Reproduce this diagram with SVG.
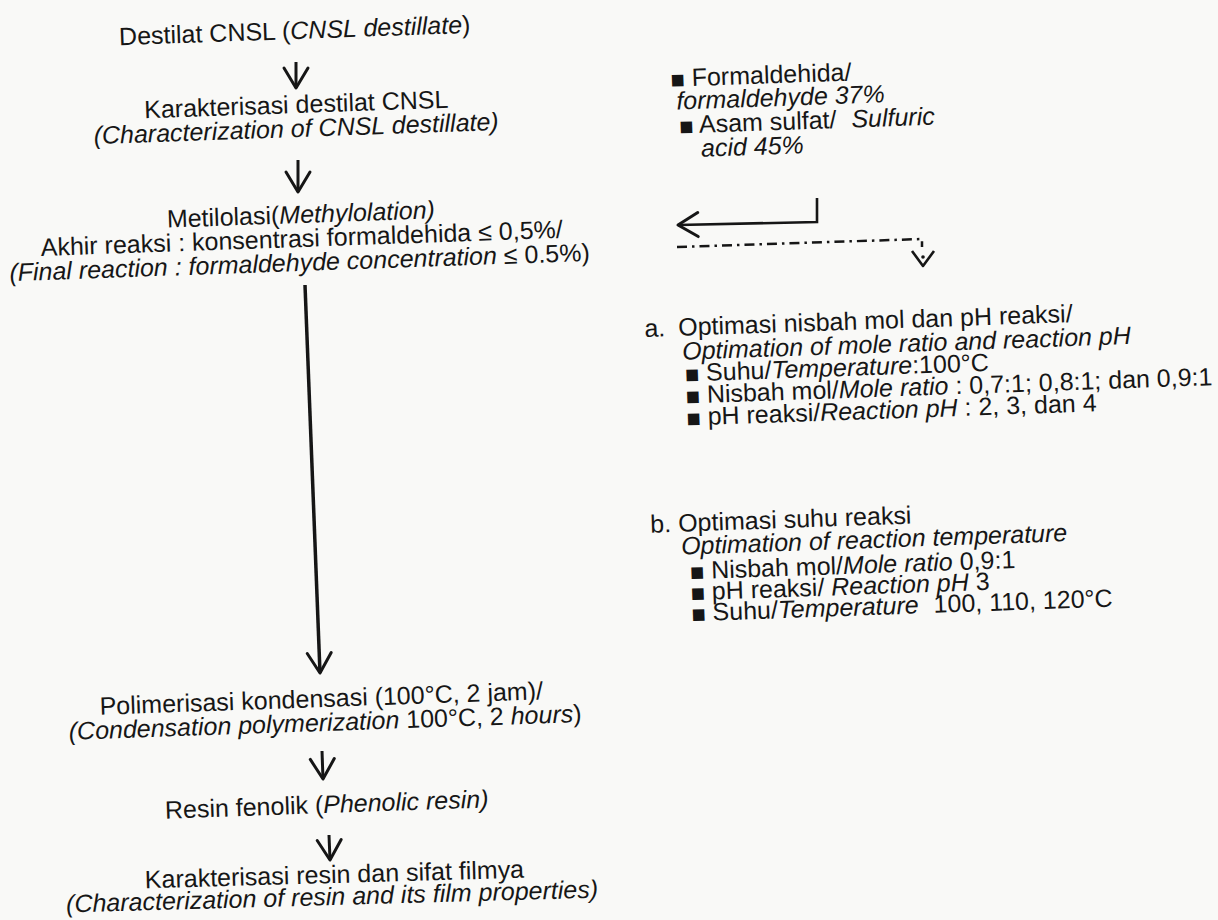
<svg xmlns="http://www.w3.org/2000/svg" width="1218" height="920" viewBox="0 0 1218 920">
<defs>
<style>
text{font-family:"Liberation Sans",Arial,Helvetica,sans-serif;font-size:25px;fill:#161616}
.c{text-anchor:middle}
.i{font-style:italic}
.b{font-family:"DejaVu Sans",sans-serif;font-size:15px}
.ln{fill:none;stroke:#161616;stroke-width:3;stroke-linecap:butt}
.dd{fill:none;stroke:#161616;stroke-width:2.5;stroke-dasharray:10 5 2.5 5}
</style>
<marker id="ah" viewBox="0 0 30 30" refX="27" refY="15" markerWidth="30" markerHeight="30" markerUnits="userSpaceOnUse" orient="auto">
<path d="M7,3 L27,15 L7,27" fill="none" stroke="#161616" stroke-width="3" stroke-linejoin="round" stroke-linecap="round"/>
</marker>
</defs>
<rect width="1218" height="920" fill="#f9f9f7"/>

<g id="n1" transform="rotate(-2 295 39)">
<text class="c" x="295" y="39">Destilat CNSL (<tspan class="i">CNSL destillate</tspan>)</text>
</g>

<g id="n2" transform="rotate(-2 297 125)">
<text class="c" x="297" y="113">Karakterisasi destilat CNSL</text>
<text class="c i" x="296" y="137">(Characterization of CNSL destillate)</text>
</g>

<g id="n3" transform="rotate(-2 300 247)">
<text class="c" x="302" y="223">Metilolasi(<tspan class="i">Methylolation)</tspan></text>
<text class="c" x="302" y="247">Akhir reaksi : konsentrasi formaldehida ≤ 0,5%/</text>
<text class="c" x="299" y="271"><tspan class="i">(Final reaction : formaldehyde concentration</tspan> ≤ 0.5%)</text>
</g>

<g id="n4" transform="rotate(-2 323 719)">
<text class="c" x="322" y="707">Polimerisasi kondensasi (100°C, 2 jam)/</text>
<text class="c" x="325" y="731"><tspan class="i">(Condensation polymerization</tspan> 100°C, 2 <tspan class="i">hours</tspan>)</text>
</g>

<g id="n5" transform="rotate(-2 327 813)">
<text class="c" x="327" y="813">Resin fenolik (<tspan class="i">Phenolic resin)</tspan></text>
</g>

<g id="n6" transform="rotate(-1.6 333 894)">
<text class="c" x="335" y="883">Karakterisasi resin dan sifat filmya</text>
<text class="c i" x="332" y="905">(Characterization of resin and its film properties)</text>
</g>

<g id="reagents" transform="rotate(-2 780 118)">
<text x="672" y="83"><tspan class="b" dy="-2">■</tspan><tspan dy="2"> Formaldehida/</tspan></text>
<text class="i" x="677" y="106">formaldehyde 37%</text>
<text x="679" y="130"><tspan class="b" dy="-2">■</tspan><tspan dy="2"> Asam sulfat/ </tspan><tspan class="i" dx="8">Sulfuric</tspan></text>
<text class="i" x="700" y="154">acid 45%</text>
</g>

<g id="opt-a" transform="rotate(-2 930 370)">
<text x="646" y="327">a. <tspan dx="6">Optimasi nisbah mol dan pH reaksi/</tspan></text>
<text class="i" x="683" y="351">Optimation of mole ratio and reaction pH</text>
<text x="685" y="373"><tspan class="b" dy="-2">■</tspan><tspan dy="2"> Suhu/</tspan><tspan class="i">Temperature</tspan>:100°C</text>
<text x="685" y="395"><tspan class="b" dy="-2">■</tspan><tspan dy="2"> Nisbah mol/</tspan><tspan class="i">Mole ratio</tspan> : 0,7:1; 0,8:1; dan 0,9:1</text>
<text x="685" y="417"><tspan class="b" dy="-2">■</tspan><tspan dy="2"> pH reaksi/</tspan><tspan class="i">Reaction pH</tspan> : 2, 3, dan 4</text>
</g>

<g id="opt-b" transform="rotate(-2 900 568)">
<text x="652" y="524">b. Optimasi suhu reaksi</text>
<text class="i" x="682" y="547">Optimation of reaction temperature</text>
<text x="690" y="572"><tspan class="b" dy="-2">■</tspan><tspan dy="2"> Nisbah mol/</tspan><tspan class="i">Mole ratio</tspan> 0,9:1</text>
<text x="690" y="593"><tspan class="b" dy="-2">■</tspan><tspan dy="2"> pH reaksi/ </tspan><tspan class="i">Reaction pH</tspan> 3</text>
<text x="690" y="614"><tspan class="b" dy="-2">■</tspan><tspan dy="2"> Suhu/</tspan><tspan class="i">Temperature</tspan> <tspan dx="8">100, 110, 120°C</tspan></text>
</g>

<g id="connectors">
<path class="ln" d="M296,62 L296,88" marker-end="url(#ah)"/>
<path class="ln" d="M298,160 L298,192" marker-end="url(#ah)"/>
<path class="ln" d="M305,285 L320,673" marker-end="url(#ah)" style="stroke-width:3.5"/>
<path class="ln" d="M322,751 L323,779" marker-end="url(#ah)"/>
<path class="ln" d="M329,835 L330,860" marker-end="url(#ah)"/>
<path class="ln" d="M817,198 L817,222 L678,225" marker-end="url(#ah)" style="stroke-width:2.6"/>
<path class="dd" d="M677,247 L922,239 L922,247"/>
<path class="ln" d="M912,251 L923,266 L934,251" style="stroke-width:2.6;stroke-linejoin:round"/>
<circle cx="923" cy="257" r="1.8" fill="#161616"/>
</g>
</svg>
